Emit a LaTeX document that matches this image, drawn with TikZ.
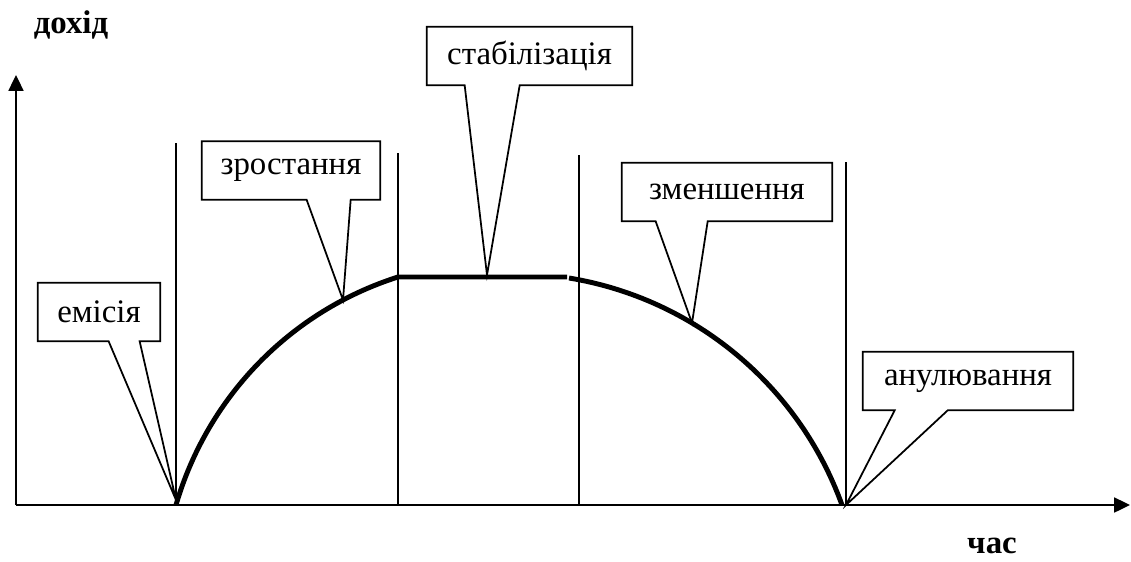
\documentclass[tikz,border=0pt]{standalone}
\usepackage{fontspec}
\setmainfont{Liberation Serif}
\usetikzlibrary{arrows.meta,calc}

\tikzset{
  phase/.style={minimum height=1.16cm, inner sep=0pt, font=\fontsize{18.7}{22}\selectfont},
  axislabel/.style={inner sep=0pt, font=\fontsize{18.7}{22}\selectfont\bfseries},
  border/.style={line width=1pt},
  curve/.style={line width=2.8pt},
  axis/.style={line width=1.1pt, -{Triangle[length=9pt,width=8.5pt]}}
}

% callout outline: node, left and right base offsets, tip
\newcommand{\bubble}[4]{%
  \draw[border] (#1.north west) -- (#1.north east) -- (#1.south east)
    -- ($(#1.south west)+(#3,0)$) -- (#4) -- ($(#1.south west)+(#2,0)$)
    -- (#1.south west) -- cycle;}

\begin{document}
\begin{tikzpicture}[x=0.02cm, y=-0.02cm]
    \useasboundingbox (0,0) rectangle (1131,561);

    % Axes
    \coordinate (O) at (16,505);
    \coordinate (ytop) at (16,75);
    \coordinate (xend) at (1130,505);
    \draw[axis] (O) -- (ytop);
    \draw[axis] (O) -- (xend);
    \node[axislabel] (income) at (71,25) {дохід};
    \node[axislabel] (time) at (992,546) {час};

    % Phase borders
    \foreach \x/\t in {176/143, 398/153, 579/155, 846/162}
        \draw[border] (\x,\t) -- (\x,505);

    % Income curve
    \coordinate (start) at (176,505);
    \coordinate (peakL) at (398,277);
    \coordinate (peakR) at (567,277);
    \coordinate (fall) at (569,278);
    \coordinate (finish) at (842,505);
    \draw[curve] (start) .. controls (207.4,396.9) and (290.6,311.1) .. (peakL) -- (peakR);
    \draw[curve] (fall) .. controls (694.4,298.6) and (798.8,385.5) .. (finish);

    % Callout tips
    \coordinate (emtip) at (176,500);
    \coordinate (grtip) at (343,300);
    \coordinate (sttip) at (487,275);
    \coordinate (dctip) at (692,323);
    \coordinate (cntip) at (846,505);

    % Callouts
    \node[phase, minimum width=2.44cm] (emission) at (99,312) {емісія};
    \bubble{emission}{71}{102}{emtip}
    \node[phase, minimum width=3.56cm] (growth) at (291,170.5) {зростання};
    \bubble{growth}{105}{149}{grtip}
    \node[phase, minimum width=4.1cm] (stable) at (529.5,56) {стабілізація};
    \bubble{stable}{38}{93}{sttip}
    \node[phase, minimum width=4.2cm] (decline) at (727,192) {зменшення};
    \bubble{decline}{34}{86}{dctip}
    \node[phase, minimum width=4.2cm] (cancel) at (968,381) {анулювання};
    \bubble{cancel}{32}{85}{cntip}
\end{tikzpicture}
\end{document}
